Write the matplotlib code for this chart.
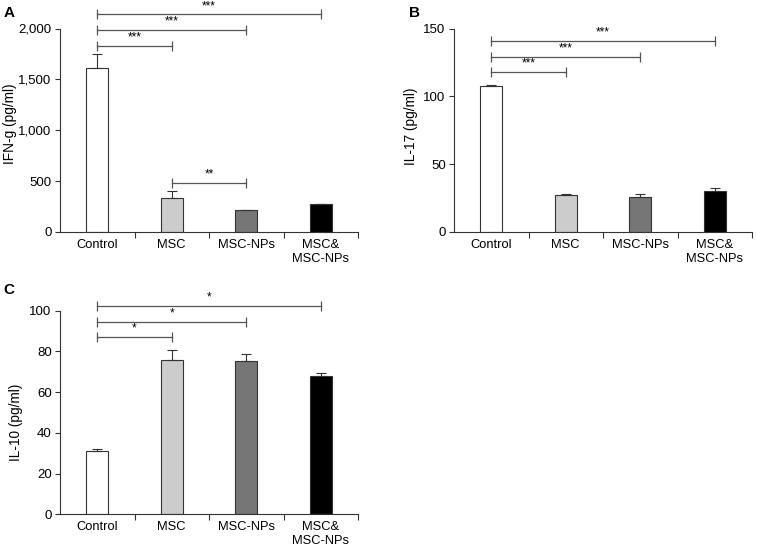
import matplotlib.pyplot as plt
from matplotlib.ticker import FuncFormatter

plt.rcParams["font.family"] = ["Liberation Sans", "DejaVu Sans"]

GROUPS = ["Control", "MSC", "MSC-NPs", "MSC&\nMSC-NPs"]
BAR_COLORS = ["#ffffff", "#cccccc", "#767676", "#000000"]

IFN_MEAN = [1610, 331, 216, 272]
IFN_ERR = [140, 68, 5, 0]
IFN_SIG = [(0, 1, 1830, "***"), (0, 2, 1987, "***"), (0, 3, 2138, "***"), (1, 2, 482, "**")]

IL17_MEAN = [107.7, 27.3, 25.6, 30.5]
IL17_ERR = [1.0, 0.7, 2.6, 1.6]
IL17_SIG = [(0, 1, 118.3, "***"), (0, 2, 129.3, "***"), (0, 3, 141.1, "***")]

IL10_MEAN = [31.1, 75.9, 75.1, 68.1]
IL10_ERR = [1.0, 4.6, 3.5, 1.2]
IL10_SIG = [(0, 1, 87.2, "*"), (0, 2, 94.6, "*"), (0, 3, 102.3, "*")]

W, H = 757, 551


def panel(fig, rect, mean, err, sig, ymax, step, ylabel, label_xy, comma=False):
    ax = fig.add_axes(rect)
    x = range(len(GROUPS))
    ax.bar(x, mean, width=0.3, color=BAR_COLORS, edgecolor="#333333", linewidth=0.8,
           yerr=[[0] * len(err), err], capsize=3.5,
           error_kw=dict(ecolor="#333333", elinewidth=0.8, capthick=0.8))
    ax.set_xlim(-0.5, 3.5)
    ax.set_ylim(0, ymax)
    ax.set_yticks(range(0, ymax + 1, step))
    if comma:
        ax.yaxis.set_major_formatter(FuncFormatter(lambda v, p: f"{int(v):,}"))
    ax.set_xticks([0.5, 1.5, 2.5, 3.5])
    ax.set_xticklabels([])
    ax.set_xticks(list(x), GROUPS, minor=True)
    ax.tick_params(axis="x", which="minor", length=0, pad=5, labelsize=9.3)
    ax.tick_params(axis="x", which="major", length=4, width=0.8, color="#333333")
    ax.tick_params(axis="y", length=3.5, width=0.8, color="#333333", labelsize=9.5, pad=2.5)
    for s in ["top", "right"]:
        ax.spines[s].set_visible(False)
    for s in ["left", "bottom"]:
        ax.spines[s].set_color("#333333")
        ax.spines[s].set_linewidth(0.8)
    ax.set_ylabel(ylabel, fontsize=9.8)
    ax.yaxis.set_label_coords(*label_xy)

    for a, b, y, star in sig:
        ax.plot([a, b], [y, y], color="#555555", lw=0.9, marker="|", markersize=7,
                markeredgewidth=0.9, clip_on=False)
        ax.text((a + b) / 2, y + ymax * 0.012, star, ha="center", va="bottom",
                fontsize=8.5, clip_on=False)
    return ax


fig = plt.figure(figsize=(W / 100, H / 100), dpi=100)
aw = 298 / W
ah = 203.5 / H
panel(fig, [60 / W, (H - 232) / H, aw, ah], IFN_MEAN, IFN_ERR, IFN_SIG, 2000, 500,
      "IFN-g (pg/ml)", (-0.144, 0.53), comma=True)
panel(fig, [454 / W, (H - 232) / H, aw, ah], IL17_MEAN, IL17_ERR, IL17_SIG, 150, 50,
      "IL-17 (pg/ml)", (-0.121, 0.52))
panel(fig, [60 / W, (H - 514.3) / H, aw, ah], IL10_MEAN, IL10_ERR, IL10_SIG, 100, 20,
      "IL-10 (pg/ml)", (-0.124, 0.45))

for letter, px, py in [("A", 9, 13), ("B", 414, 13), ("C", 9, 290)]:
    fig.text(px / W, 1 - py / H, letter, fontsize=11, fontweight="bold",
             ha="center", va="center")

fig.savefig("out.png", dpi=100)
